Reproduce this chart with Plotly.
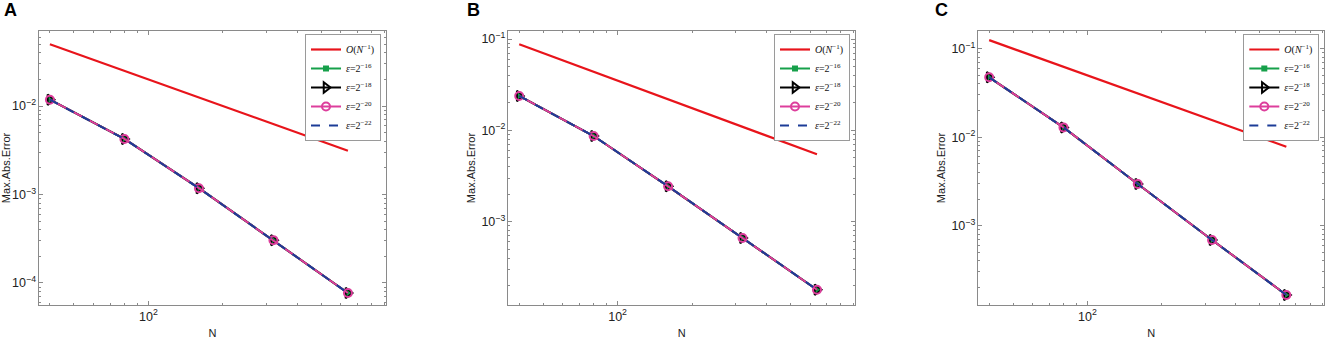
import plotly.graph_objects as go

# ---------------- data ----------------
N_values = [40, 80, 160, 320, 640]

order_A = [0.05, 0.025, 0.0125, 0.00625, 0.003125]
err_A_16 = [0.0118, 0.00425, 0.00118, 0.000305, 7.7e-05]
err_A_18 = [0.0118, 0.00425, 0.00118, 0.000305, 7.7e-05]
err_A_20 = [0.0118, 0.00425, 0.00118, 0.000305, 7.7e-05]
err_A_22 = [0.0118, 0.00425, 0.00118, 0.000305, 7.7e-05]

order_B = [0.0875, 0.04375, 0.021875, 0.0109375, 0.00546875]
err_B_16 = [0.0238, 0.00867, 0.00244, 0.000663, 0.00018]
err_B_18 = [0.0238, 0.00867, 0.00244, 0.000663, 0.00018]
err_B_20 = [0.0238, 0.00867, 0.00244, 0.000663, 0.00018]
err_B_22 = [0.0238, 0.00867, 0.00244, 0.000663, 0.00018]

order_C = [0.125, 0.0625, 0.03125, 0.015625, 0.0078125]
err_C_16 = [0.0475, 0.0129, 0.00296, 0.00069, 0.000165]
err_C_18 = [0.0475, 0.0129, 0.00296, 0.00069, 0.000165]
err_C_20 = [0.0475, 0.0129, 0.00296, 0.00069, 0.000165]
err_C_22 = [0.0475, 0.0129, 0.00296, 0.00069, 0.000165]

panel_labels = ["A", "B", "C"]
legend_names = ["<i>O</i>(<i>N</i><sup>−1</sup>)",
                "<i>ε</i>=2<sup>−16</sup>",
                "<i>ε</i>=2<sup>−18</sup>",
                "<i>ε</i>=2<sup>−20</sup>",
                "<i>ε</i>=2<sup>−22</sup>"]
y_ranges = [(-4.249, -1.151), (-3.912, -0.912), (-3.896, -0.80)]
x_range = (1.558, 2.96)

panels = [
    (order_A, [err_A_16, err_A_18, err_A_20, err_A_22]),
    (order_B, [err_B_16, err_B_18, err_B_20, err_B_22]),
    (order_C, [err_C_16, err_C_18, err_C_20, err_C_22]),
]

# ---------------- style ----------------
W, H = 1325, 339
x_doms = [(39 / W, 386 / W), (508.3 / W, 855 / W), (978.3 / W, 1324.3 / W)]
y_dom = (1 - 305 / H, 1 - 31 / H)
label_x = [10, 473, 941]

RED = "#e8141b"
GREEN = "#16a04a"
BLACK = "#000000"
MAGENTA = "#dd3e9c"
BLUE = "#1c3c97"
AXCOL = "#8a8a8a"
SANS = "Liberation Sans, Arial, sans-serif"

fig = go.Figure()

for i, (order, errs) in enumerate(panels):
    ax = "" if i == 0 else str(i + 1)
    xa, ya = "x" + ax, "y" + ax
    lg = "legend" if i == 0 else "legend" + str(i + 1)
    fig.add_trace(go.Scatter(x=N_values, y=order, mode="lines", name=legend_names[0],
                             line=dict(color=RED, width=2.2), xaxis=xa, yaxis=ya, legend=lg))
    fig.add_trace(go.Scatter(x=N_values, y=errs[0], mode="lines+markers", name=legend_names[1],
                             line=dict(color=GREEN, width=2),
                             marker=dict(symbol="square", size=6, color=GREEN),
                             xaxis=xa, yaxis=ya, legend=lg))
    fig.add_trace(go.Scatter(x=N_values, y=errs[1], mode="lines+markers", name=legend_names[2],
                             line=dict(color=BLACK, width=2),
                             marker=dict(symbol="triangle-right-open", size=9, color=BLACK, line=dict(width=2)),
                             xaxis=xa, yaxis=ya, legend=lg))
    fig.add_trace(go.Scatter(x=N_values, y=errs[2], mode="lines+markers", name=legend_names[3],
                             line=dict(color=MAGENTA, width=2),
                             marker=dict(symbol="circle-open", size=8, color=MAGENTA, line=dict(width=2)),
                             xaxis=xa, yaxis=ya, legend=lg))
    fig.add_trace(go.Scatter(x=N_values, y=errs[3], mode="lines", name=legend_names[4],
                             line=dict(color=BLUE, width=2, dash="dash"),
                             xaxis=xa, yaxis=ya, legend=lg))

    axis_common = dict(showline=True, linecolor=AXCOL, linewidth=1, mirror="ticks",
                       ticks="inside", ticklen=4, tickcolor=AXCOL, showgrid=False, zeroline=False,
                       type="log", dtick=1, exponentformat="power", automargin=False,
                       tickfont=dict(family=SANS, size=10, color="#222"),
                       minor=dict(ticks="inside", ticklen=2, tickcolor=AXCOL, showgrid=False))
    fig.layout["xaxis" + ax] = dict(axis_common, domain=x_doms[i], range=list(x_range), anchor=ya,
                                    title=dict(text="N", standoff=10, font=dict(family=SANS, size=11, color="#222")))
    fig.layout["yaxis" + ax] = dict(axis_common, domain=y_dom, range=list(y_ranges[i]), anchor=xa,
                                    title=dict(text="Max.Abs.Error", standoff=3,
                                               font=dict(family=SANS, size=11, color="#222")))
    fig.layout[lg] = dict(x=x_doms[i][1] - 5 / W, y=y_dom[1] - 3 / H, xanchor="right", yanchor="top",
                          xref="paper", yref="paper",
                          bgcolor="white", bordercolor="#9a9a9a", borderwidth=1,
                          font=dict(family="Liberation Serif, Times New Roman, serif", size=10, color="#111"),
                          tracegroupgap=0, itemwidth=30)

    fig.add_annotation(text="<b>" + panel_labels[i] + "</b>", x=label_x[i] / W, y=1 + 2 / H,
                       xref="paper", yref="paper", xanchor="center", yanchor="top", showarrow=False,
                       font=dict(family=SANS, size=18, color="black"))

fig.update_layout(width=W, height=H, margin=dict(l=0, r=0, t=0, b=0, autoexpand=False),
                  paper_bgcolor="white", plot_bgcolor="white", showlegend=True)

fig.write_html("out.html", config={"displayModeBar": False},
               post_script="document.body.style.margin='0';document.body.style.padding='0';"
                           "document.body.style.overflow='hidden';")
